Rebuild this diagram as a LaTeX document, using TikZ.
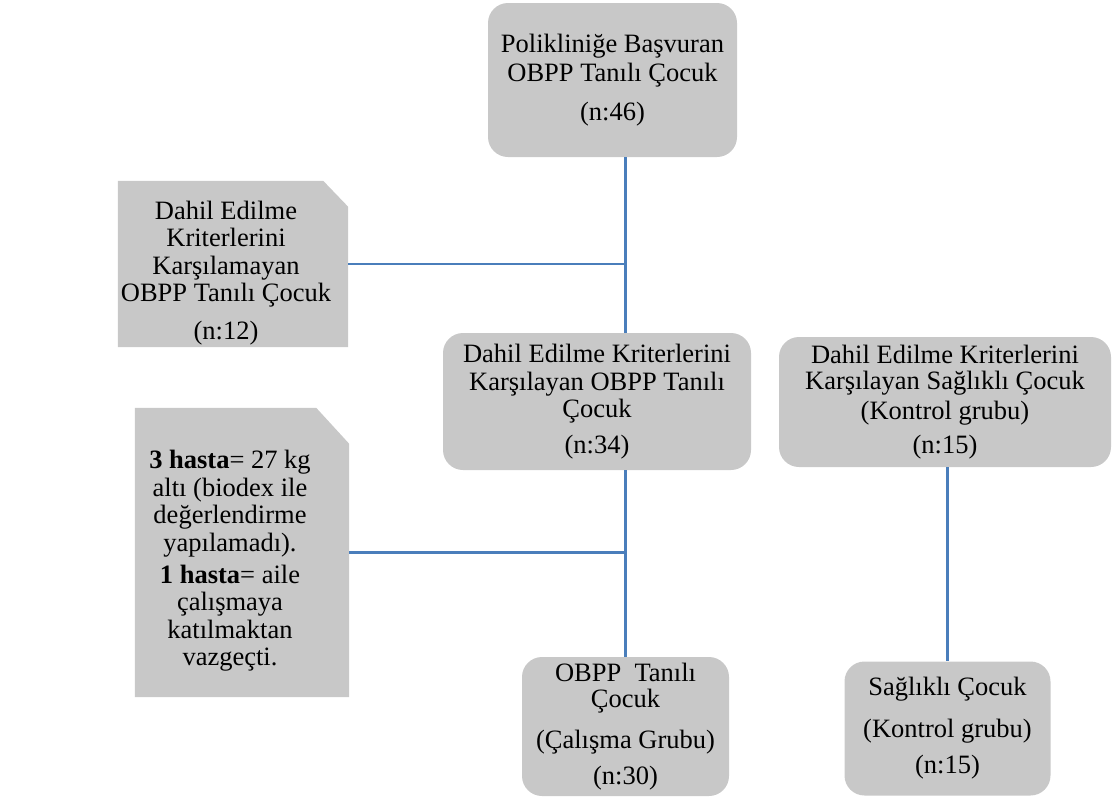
\documentclass[tikz,border=0pt]{standalone}
\usepackage{fontspec}
\setmainfont{Liberation Serif}
\definecolor{boxgray}{HTML}{C8C8C8}
\definecolor{linkblue}{HTML}{4A7EBB}

\begin{document}
\begin{tikzpicture}[x=1pt, y=-1pt,
	every node/.style={font=\fontsize{26.5}{27.5}\selectfont, align=center, inner sep=0pt},
	roundbox/.style={rectangle, rounded corners=20pt, fill=boxgray},
	snipframe/.style={rectangle},
	link/.style={draw=linkblue, line width=2.2pt}]
			% Flow of the children through the study
			\useasboundingbox (0,0) rectangle (1113,798);
			\node[roundbox, minimum width=249pt, minimum height=154pt] (applied) at (612.5,80) {Polikliniğe Başvuran\\[2pt]OBPP Tanılı Çocuk\\[11.5pt](n:46)};
			
			% snipped boxes on the left
			\node[snipframe, minimum width=230pt, minimum height=166pt] (excluded) at (233,264) {};
			\fill[boxgray] (excluded.north west) -- ([xshift=-25pt]excluded.north east) -- ([yshift=-26pt]excluded.north east) -- (excluded.south east) -- (excluded.south west) -- cycle;
			\node (excludedtext) at (226,273) {Dahil Edilme\\Kriterlerini\\Karşılamayan\\OBPP Tanılı Çocuk\\[10.5pt](n:12)};
			
			\node[snipframe, minimum width=214pt, minimum height=289pt] (dropped) at (242,552.5) {};
			\fill[boxgray] (dropped.north west) -- ([xshift=-33pt]dropped.north east) -- ([yshift=-36pt]dropped.north east) -- (dropped.south east) -- (dropped.south west) -- cycle;
			\node (droppedtext) at (230,561) {\textbf{3 hasta}= 27 kg\\altı (biodex ile\\değerlendirme\\yapılamadı).\\[4.5pt]\textbf{1 hasta}= aile\\çalışmaya\\katılmaktan\\vazgeçti.};
			
			\node[roundbox, minimum width=308pt, minimum height=137pt] (included) at (597,401.5) {Dahil Edilme Kriterlerini\\Karşılayan OBPP Tanılı\\Çocuk\\[8pt](n:34)};
			\node[roundbox, minimum width=332pt, minimum height=130pt] (healthyin) at (945,402) {Dahil Edilme Kriterlerini\\[-1pt]Karşılayan Sağlıklı Çocuk\\[2pt](Kontrol grubu)\\[7pt](n:15)};
			
			\node[roundbox, minimum width=207pt, minimum height=139pt] (study) at (625.5,726.5) {OBPP\ \ Tanılı\\[-1pt]Çocuk\\[13pt](Çalışma Grubu)\\[9pt](n:30)};
			\node[roundbox, minimum width=206pt, minimum height=134pt] (control) at (947.5,728.5) {Sağlıklı Çocuk\\[14pt](Kontrol grubu)\\[9pt](n:15)};
			
			\draw[link] (applied.south -| study.north) -- (included.north -| study.north);
			\draw[link] (included.south -| study.north) -- (study.north);
			\draw[link] (excluded.east) -- (excluded.east -| study.north);
			\draw[link] (dropped.east) -- (dropped.east -| study.north);
			\draw[link] (healthyin.south -| control.north) -- (control.north);
		\end{tikzpicture}
\end{document}
